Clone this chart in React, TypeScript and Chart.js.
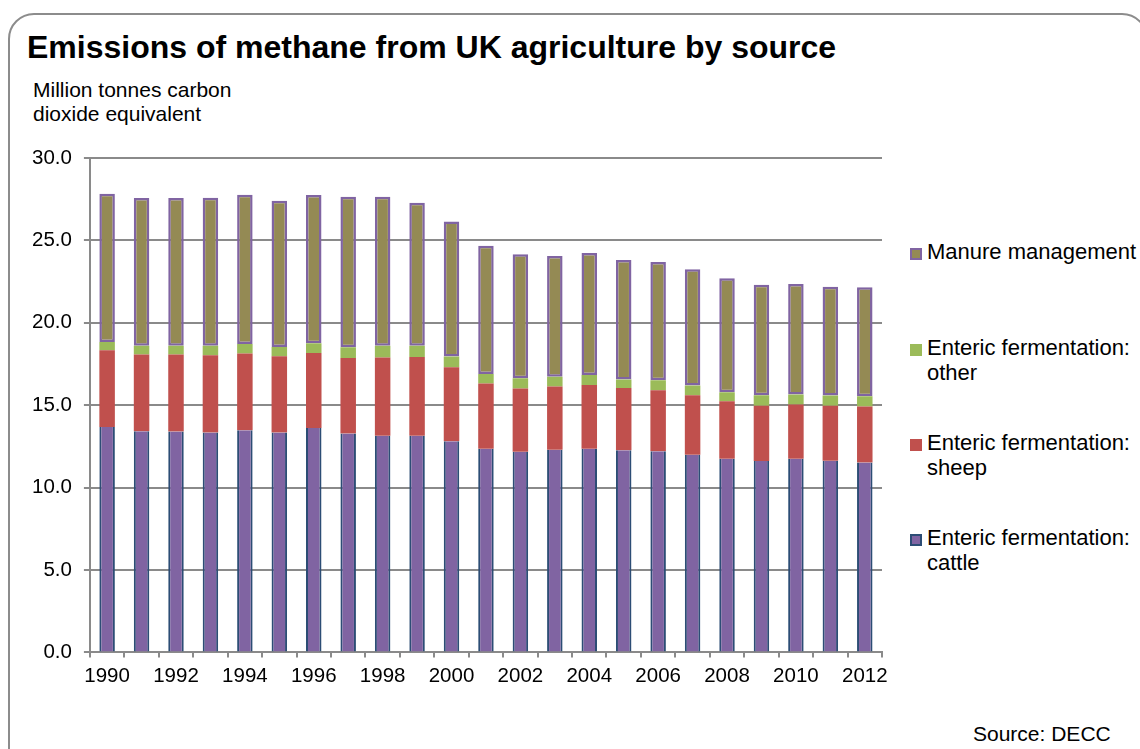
import React, { useEffect, useRef } from "react";
import { Chart, registerables } from "chart.js";

Chart.register(...registerables);

const years = ["1990","1991","1992","1993","1994","1995","1996","1997","1998","1999","2000","2001","2002","2003","2004","2005","2006","2007","2008","2009","2010","2011","2012"];
const cattle = [13.68,13.42,13.4,13.34,13.48,13.34,13.62,13.28,13.15,13.15,12.81,12.36,12.18,12.3,12.36,12.26,12.2,12.0,11.75,11.61,11.75,11.63,11.53];
const sheep = [4.65,4.65,4.67,4.69,4.65,4.63,4.55,4.58,4.75,4.77,4.5,3.96,3.84,3.84,3.86,3.78,3.7,3.61,3.49,3.35,3.29,3.33,3.39];
const other = [0.51,0.53,0.53,0.57,0.59,0.56,0.59,0.65,0.7,0.68,0.64,0.57,0.61,0.59,0.61,0.52,0.62,0.59,0.55,0.65,0.61,0.63,0.63];
const manure = [8.99,8.97,8.97,8.99,9.05,8.87,8.99,9.14,9.05,8.68,8.2,7.79,7.53,7.33,7.41,7.25,7.17,7.05,6.91,6.7,6.7,6.6,6.6];

const title = "Emissions of methane from UK agriculture by source";
const unitLines = ["Million tonnes carbon", "dioxide equivalent"];
const source = "Source: DECC";

const FONT = "'Liberation Sans', Arial, Helvetica, sans-serif";
const GRID = "#8a8a8a";

const legendItems = [
  { lines: ["Manure management"], fill: "#948a54", border: "#8064a2", top: 240 },
  { lines: ["Enteric fermentation:", "other"], fill: "#9bbb59", border: "#9bbb59", top: 336 },
  { lines: ["Enteric fermentation:", "sheep"], fill: "#c0504d", border: "#c0504d", top: 431 },
  { lines: ["Enteric fermentation:", "cattle"], fill: "#8064a2", border: "#2c4d75", top: 526 },
];

export default function App() {
  const ref = useRef<HTMLCanvasElement>(null);

  useEffect(() => {
    if (!ref.current) return;
    const chart = new Chart(ref.current, {
      type: "bar",
      data: {
        labels: years,
        datasets: [
          { label: "Enteric fermentation: cattle", data: cattle, backgroundColor: "#8064a2", borderColor: "#2c4d75", borderWidth: { left: 2, right: 2, top: 0, bottom: 0 } as any, borderSkipped: false },
          { label: "Enteric fermentation: sheep", data: sheep, backgroundColor: "#c0504d", borderWidth: 0 },
          { label: "Enteric fermentation: other", data: other, backgroundColor: "#9bbb59", borderWidth: 0 },
          { label: "Manure management", data: manure, backgroundColor: "#948a54", borderColor: "#8064a2", borderWidth: 2.5, borderSkipped: false },
        ],
      },
      options: {
        animation: false,
        responsive: false,
        maintainAspectRatio: false,
        layout: { padding: { left: 20, right: 18, top: 158, bottom: 53 } },
        datasets: { bar: { categoryPercentage: 1, barPercentage: 0.45 } },
        plugins: { legend: { display: false }, tooltip: { enabled: false }, title: { display: false } },
        scales: {
          x: {
            stacked: true,
            offset: true,
            grid: { display: true, drawOnChartArea: false, drawTicks: true, tickLength: 5, color: GRID, lineWidth: 2, offset: true },
            border: { display: true, color: GRID, width: 2 },
            ticks: {
              autoSkip: false,
              maxRotation: 0,
              minRotation: 0,
              padding: 7,
              color: "#000",
              font: { family: FONT, size: 20.5 },
              callback: (_v: any, i: number) => (i % 2 === 0 ? years[i] : ""),
            },
          },
          y: {
            stacked: true,
            min: 0,
            max: 30,
            grid: { color: GRID, lineWidth: 2, drawTicks: true, tickLength: 6 },
            border: { display: true, color: GRID, width: 2 },
            ticks: {
              stepSize: 5,
              padding: 12,
              color: "#000",
              font: { family: FONT, size: 20.5 },
              callback: (v: any) => Number(v).toFixed(1),
            },
          },
        },
      },
    });
    return () => chart.destroy();
  }, []);

  return (
    <div style={{ position: "absolute", left: 0, top: 0, width: 1140, height: 749, overflow: "hidden", background: "#fff", fontFamily: FONT, color: "#000" }}>
      <div style={{ position: "absolute", left: 8, top: 13, width: 1140, height: 780, boxSizing: "border-box", border: "2px solid #8c8c8c", borderRadius: 26 }} />
      <div style={{ position: "absolute", left: 27, top: 31, fontSize: 32, fontWeight: "bold", lineHeight: "32px", whiteSpace: "nowrap" }}>{title}</div>
      <div style={{ position: "absolute", left: 33, top: 78, fontSize: 21, lineHeight: "24px", whiteSpace: "nowrap" }}>
        {unitLines.map((l) => (<div key={l}>{l}</div>))}
      </div>
      <canvas ref={ref} width={900} height={749} style={{ position: "absolute", left: 0, top: 0, width: 900, height: 749 }} />
      {legendItems.map((it) => (
        <div key={it.lines.join()} style={{ position: "absolute", left: 910, top: it.top }}>
          <div style={{ position: "absolute", left: 0, top: 8, width: 12, height: 12, boxSizing: "border-box", background: it.fill, border: `2px solid ${it.border}` }} />
          <div style={{ position: "absolute", left: 17, top: 0, fontSize: 22, lineHeight: "24.5px", whiteSpace: "nowrap" }}>
            {it.lines.map((l) => (<div key={l}>{l}</div>))}
          </div>
        </div>
      ))}
      <div style={{ position: "absolute", left: 973, top: 722, fontSize: 21, lineHeight: "24px", whiteSpace: "nowrap" }}>{source}</div>
    </div>
  );
}
